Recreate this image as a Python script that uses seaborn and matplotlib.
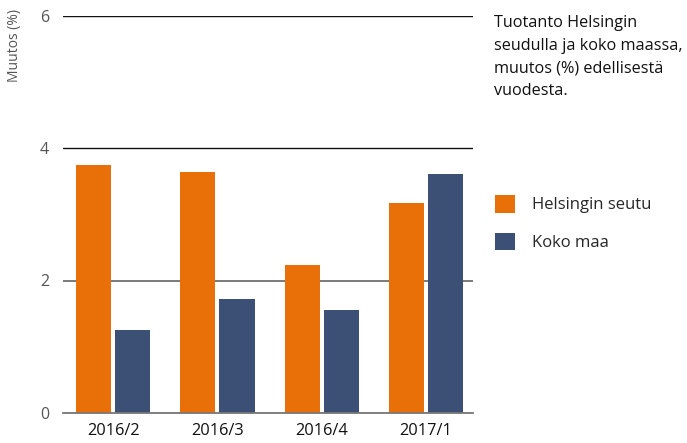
import pandas as pd
import seaborn as sns
import matplotlib.pyplot as plt
from matplotlib.patches import Patch

# values
PERIODS = ["2016/2", "2016/3", "2016/4", "2017/1"]
HELSINKI = [3.74, 3.64, 2.23, 3.17]
WHOLE_COUNTRY = [1.25, 1.72, 1.55, 3.61]
SERIES = ["Helsingin seutu", "Koko maa"]
COLORS = ["#E97009", "#3C5076"]

TITLE = "Tuotanto Helsingin\nseudulla ja koko maassa,\nmuutos (%) edellisestä\nvuodesta."

data = pd.DataFrame({
    "period": PERIODS * 2,
    "series": [SERIES[0]] * len(PERIODS) + [SERIES[1]] * len(PERIODS),
    "value": HELSINKI + WHOLE_COUNTRY,
})

sns.set_style("white")
plt.rcParams["font.family"] = ["Open Sans", "DejaVu Sans"]

fig = plt.figure(figsize=(6.87, 4.43), dpi=100)
ax = fig.add_axes([63 / 687, 1 - 413 / 443, 410 / 687, (413 - 15.5) / 443])

sns.barplot(
    data=data, x="period", y="value", hue="series",
    palette=COLORS, width=0.75, gap=0.1, saturation=1,
    linewidth=0, legend=False, ax=ax,
)

ax.set_ylim(0, 6)
ax.set_xlim(-0.48, 3.45)
ax.set_yticks([0, 2, 4, 6])
ax.set_xlabel("")
ax.set_ylabel("")

ax.grid(axis="y", color="#111111", linewidth=1.0)
ax.set_axisbelow(True)
for line, tick in zip(ax.get_ygridlines(), ax.get_yticks()):
    if tick == 2:
        line.set_color("#6f6f6f")
        line.set_linewidth(1.3)

for side in ["top", "right", "left"]:
    ax.spines[side].set_visible(False)
ax.spines["bottom"].set_color("#777777")
ax.spines["bottom"].set_linewidth(1.3)

ax.tick_params(axis="y", length=0, pad=10, labelsize=11.5, labelcolor="#555555")
ax.tick_params(axis="x", length=0, pad=7, labelsize=11.8, labelcolor="#111111")

fig.text(15 / 687, 1 - 9 / 443, "Muutos (%)", rotation=90, ha="center", va="top",
         fontsize=10, color="#555555")

fig.text(494 / 687, 1 - 15 / 443, TITLE, ha="left", va="top",
         fontsize=11.7, color="#111111", linespacing=1.55)

handles = [Patch(facecolor=c, edgecolor="none") for c in COLORS]
fig.legend(
    handles, SERIES, loc="upper left", bbox_to_anchor=(495 / 687, 1 - 195 / 443),
    frameon=False, fontsize=12, handlelength=1.2, handleheight=1.25,
    handletextpad=1.0, labelspacing=1.15, borderpad=0, borderaxespad=0,
)

fig.savefig("out.png", dpi=100)
